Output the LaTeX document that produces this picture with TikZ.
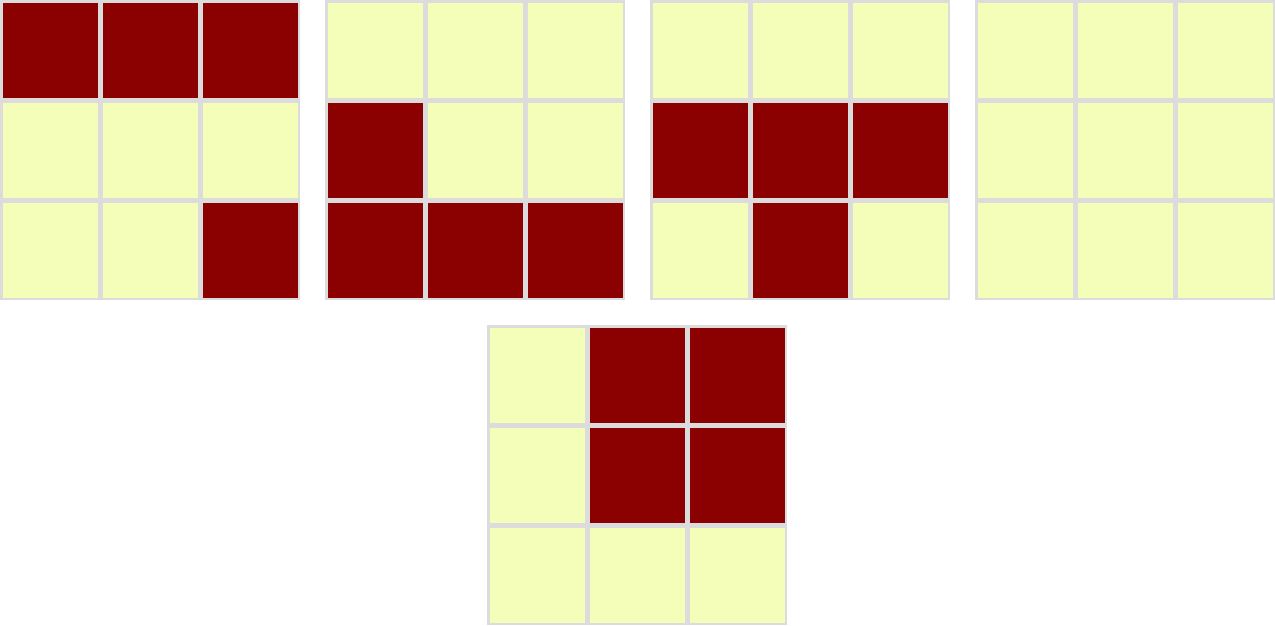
\documentclass[tikz,border=0pt]{standalone}
\definecolor{cellred}{HTML}{8B0000}
\definecolor{cellyel}{HTML}{F4FEB8}
\definecolor{cellgray}{HTML}{DCDCDC}
\tikzset{
  cell/.style={draw=cellgray, line width=2.5pt, minimum size=97.5pt, inner sep=0pt, outer sep=0pt},
  R/.style={cell, fill=cellred},
  Y/.style={cell, fill=cellyel}
}
\begin{document}
\begin{tikzpicture}[x=1pt,y=-1pt]
\useasboundingbox (0,0) rectangle (1275,625);
% grid id / x0 / y0 / pattern row0 / row1 / row2
\foreach \g/\gx/\gy/\ra/\rb/\rc in {
  a/0/0/{R,R,R}/{Y,Y,Y}/{Y,Y,R},
  b/325/0/{Y,Y,Y}/{R,Y,Y}/{R,R,R},
  c/650/0/{Y,Y,Y}/{R,R,R}/{Y,R,Y},
  d/975/0/{Y,Y,Y}/{Y,Y,Y}/{Y,Y,Y},
  e/487/325/{Y,R,R}/{Y,R,R}/{Y,Y,Y}} {
  \foreach \s [count=\c from 0] in \ra
    \node[\s] (\g-0-\c) at (\gx+50+100*\c, \gy+50) {};
  \foreach \s [count=\c from 0] in \rb
    \node[\s] (\g-1-\c) at (\gx+50+100*\c, \gy+150) {};
  \foreach \s [count=\c from 0] in \rc
    \node[\s] (\g-2-\c) at (\gx+50+100*\c, \gy+250) {};
}
\end{tikzpicture}
\end{document}
